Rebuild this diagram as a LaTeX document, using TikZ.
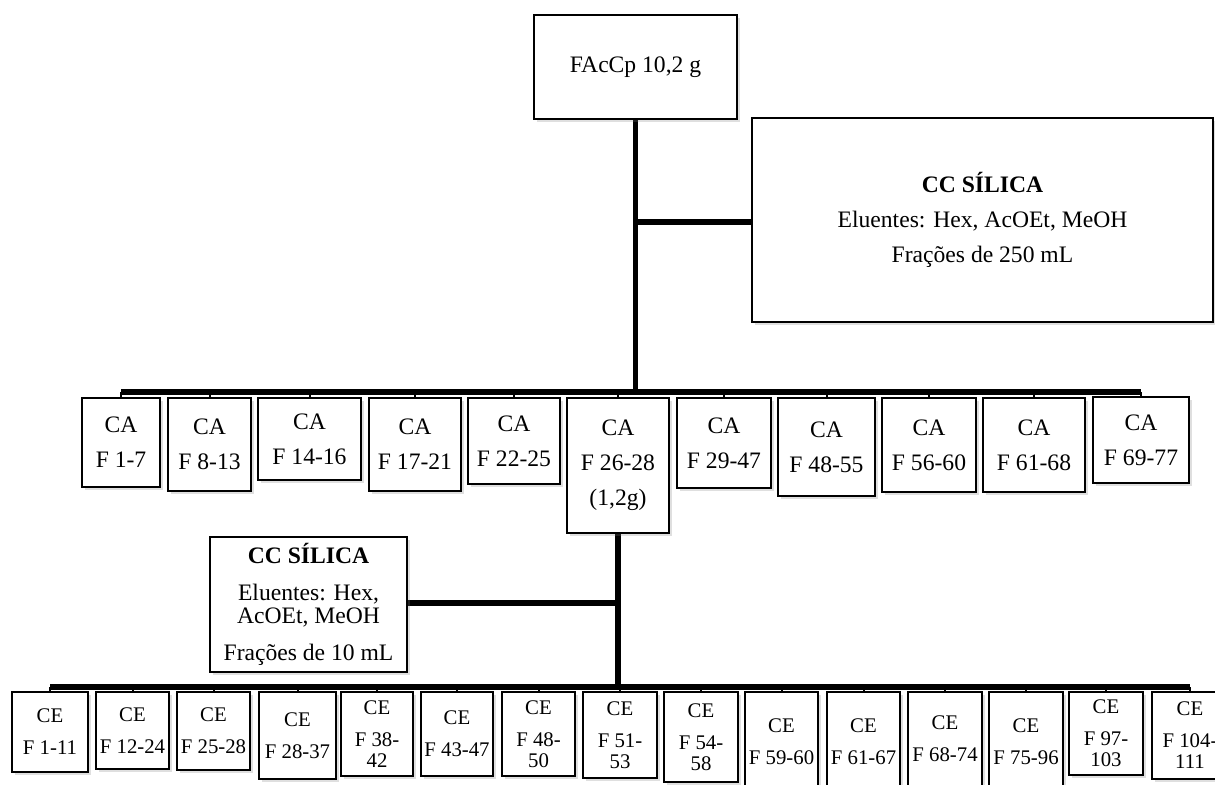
\documentclass[tikz,border=0pt]{standalone}
\usepackage{fontspec}
\setmainfont{Liberation Serif}
\usetikzlibrary{shadows}
\tikzset{
  box/.style={draw=black, line width=0.9pt, fill=white, inner sep=0pt, align=center,
    drop shadow={shadow xshift=1.3pt, shadow yshift=-1.3pt, opacity=0.25}},
  big/.style={font=\fontsize{11.8}{11.8}\selectfont},
  small/.style={font=\fontsize{10.4}{10.5}\selectfont},
  heavy/.style={line width=2.8pt, line cap=butt},
  stub/.style={line width=1pt}
}
\newcommand{\mybox}[7][]{%
  \node[box,#1,minimum width={(#4-#3)*0.5pt},minimum height={(#6-#5)*0.5pt}]
    (#2) at ({(#3+#4)/2},{(#5+#6)/2}) {#7};}
\begin{document}
\begin{tikzpicture}[x=0.5pt,y=-0.5pt]
\clip (0,0) rectangle (1215,785);
\fill[white] (0,0) rectangle (1215,785);
% junction coordinates
\coordinate (jA) at (635.5,392);
\coordinate (j1) at (635.5,222);
\coordinate (jB) at (618,687);
\coordinate (j2) at (618,603);
% top part nodes (drawn later over lines)
\path (534,15) coordinate (tmp);
% ---- connectors ----
\draw[heavy] (635.5,119) -- (jA);
\draw[heavy] (j1) -- (752,222);
\draw[heavy] (121,392) -- (1141,392);
\draw[heavy] (618,533) -- (jB);
\draw[heavy] (j2) -- (407,603);
\draw[heavy] (50,687) -- (1190,687);
% ---- boxes ----
\mybox[big]{top}{534}{737}{15}{119}{FAcCp 10,2 g}
\mybox[big]{cc1}{752}{1213}{118}{322}{\textbf{CC SÍLICA}\\[5.7pt]Eluentes: Hex, AcOEt, MeOH\\[5.7pt]Frações de 250 mL}
\mybox[big]{a1}{82}{160}{398}{487}{CA\\[5.7pt]F 1-7}
\mybox[big]{a2}{168}{251}{398}{491}{CA\\[5.7pt]F 8-13}
\mybox[big]{a3}{258}{361}{398}{480}{CA\\[5.7pt]F 14-16}
\mybox[big]{a4}{369}{461}{398}{491}{CA\\[5.7pt]F 17-21}
\mybox[big]{a5}{468}{560}{398}{484}{CA\\[5.7pt]F 22-25}
\mybox[big]{a6}{567}{669}{398}{533}{CA\\[5.7pt]F 26-28\\[5.7pt](1,2g)}
\mybox[big]{a7}{677}{771}{398}{488}{CA\\[5.7pt]F 29-47}
\mybox[big]{a8}{778}{875}{398}{496}{CA\\[5.7pt]F 48-55}
\mybox[big]{a9}{882}{976}{398}{492}{CA\\[5.7pt]F 56-60}
\mybox[big]{a10}{983}{1085}{398}{492}{CA\\[5.7pt]F 61-68}
\mybox[big]{a11}{1093}{1189}{397}{483}{CA\\[5.7pt]F 69-77}
\mybox[big]{cc2}{210}{407}{537}{672}{\textbf{CC SÍLICA}\\[6.5pt]Eluentes: Hex,\\AcOEt, MeOH\\[6.5pt]Frações de 10 mL}
\mybox[small]{e1}{12}{88}{692}{772}{CE\\[5.5pt]F 1-11}
\mybox[small]{e2}{96}{169}{692}{769}{CE\\[5.5pt]F 12-24}
\mybox[small]{e3}{177}{250}{692}{770}{CE\\[5.5pt]F 25-28}
\mybox[small]{e4}{259}{336}{692}{779}{CE\\[5.5pt]F 28-37}
\mybox[small]{e5}{341}{413}{692}{776}{CE\\[5.5pt]F 38-\\42}
\mybox[small]{e6}{421}{493}{692}{776}{CE\\[5.5pt]F 43-47}
\mybox[small]{e7}{502}{575}{692}{776}{CE\\[5.5pt]F 48-\\50}
\mybox[small]{e8}{583}{657}{692}{778}{CE\\[5.5pt]F 51-\\53}
\mybox[small]{e9}{664}{738}{692}{782}{CE\\[5.5pt]F 54-\\58}
\mybox[small]{e10}{745}{818}{692}{792}{CE\\[5.5pt]F 59-60}
\mybox[small]{e11}{827}{900}{692}{792}{CE\\[5.5pt]F 61-67}
\mybox[small]{e12}{908}{982}{692}{786}{CE\\[5.5pt]F 68-74}
\mybox[small]{e13}{989}{1063}{692}{792}{CE\\[5.5pt]F 75-96}
\mybox[small]{e14}{1069}{1143}{692}{775}{CE\\[5.5pt]F 97-\\103}
\mybox[small]{e15}{1152}{1228}{692}{779}{CE\\[5.5pt]F 104-\\111}
% ---- stubs from bars to box tops ----
\foreach \n in {a1,a2,a3,a4,a5,a6,a7,a8,a9,a10,a11}
  \draw[stub] (\n.north |- jA) -- (\n.north);
\foreach \n in {e1,e2,e3,e4,e5,e6,e7,e8,e9,e10,e11,e12,e13,e14,e15}
  \draw[stub] (\n.north |- jB) -- (\n.north);
\end{tikzpicture}
\end{document}
